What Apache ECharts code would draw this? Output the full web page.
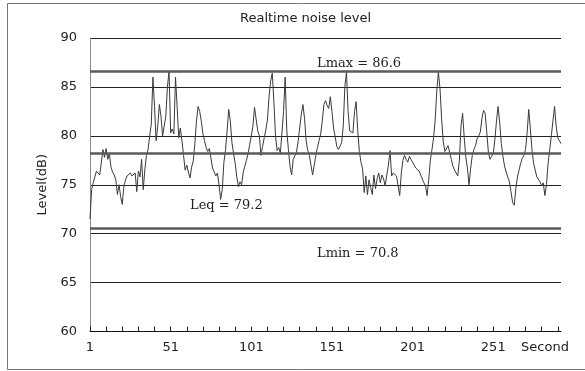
<!DOCTYPE html>
<html>
<head>
<meta charset="utf-8">
<script src="https://cdn.jsdelivr.net/npm/echarts@6/dist/echarts.min.js"></script>
<style>
html, body { margin: 0; padding: 0; background: #fff; }
#chart { width: 585px; height: 371px; }
</style>
</head>
<body>
<div id="chart"></div>
<script>
// noise level, one value per second
var noiseLevel = [
    71.5, 74.5, 75.2, 75.8, 76.4, 76.2, 76.0, 77.2, 78.6, 77.8,
    78.7, 77.6, 78.2, 76.8, 76.3, 76.0, 75.5, 74.0, 75.0, 73.8,
    73.0, 74.8, 75.5, 75.9, 76.0, 76.2, 75.9, 76.0, 76.2, 74.3,
    76.4, 75.8, 77.6, 74.5, 76.5, 78.0, 78.6, 80.0, 81.2, 86.0,
    83.0, 79.5, 81.0, 83.2, 82.0, 80.0, 79.8, 82.0, 85.0, 86.6,
    80.3, 80.7, 80.2, 86.0, 83.0, 79.8, 80.8, 79.5, 78.0, 76.5,
    77.0, 76.3, 75.7, 76.8, 77.4, 79.2, 81.5, 83.0, 82.5, 81.5,
    80.2, 79.5, 78.8, 78.4, 78.7, 77.7, 76.7, 76.8, 75.9, 76.2,
    75.0, 73.5, 74.5, 77.3, 78.5, 80.5, 82.7, 81.5, 79.3, 78.2,
    77.2, 75.8, 74.8, 75.3, 75.0, 76.3, 76.9, 77.5, 78.2, 79.1,
    80.0, 81.0, 82.9, 83.0, 80.5, 80.0, 78.0, 78.9, 79.8, 80.6,
    81.6, 84.0, 85.6, 86.4, 83.5, 80.0, 78.5, 78.8, 78.2, 78.0,
    82.5, 86.0, 80.5, 78.6, 76.9, 76.0, 77.6, 77.6, 78.3, 79.4,
    80.8, 82.2, 83.2, 81.8, 79.5, 78.5, 78.0, 77.0, 76.0, 77.0,
    78.0, 78.8, 79.5, 80.2, 81.5, 83.2, 83.6, 83.1, 82.8, 84.0,
    82.5, 80.8, 79.9, 78.9, 78.6, 78.4, 79.3, 81.0, 85.0, 86.5,
    82.5, 80.5, 80.7, 80.3, 82.5, 83.5, 80.5, 78.4, 77.3, 76.6,
    74.2, 75.9, 74.0, 75.5, 74.7, 74.0, 76.0, 74.6, 75.6, 76.2,
    75.2, 76.0, 75.6, 74.9, 76.0, 77.0, 78.5, 75.9, 76.2, 76.0,
    75.9, 74.9, 73.9, 76.2, 77.5, 78.0, 77.6, 77.3, 77.9, 77.6,
    77.3, 77.0, 76.7, 76.6, 76.4, 76.0, 75.9, 75.2, 74.9, 73.9,
    75.5, 77.5, 78.6, 79.8, 81.6, 84.6, 86.5, 84.8, 81.7, 79.4,
    78.4, 78.2, 79.0, 78.3, 77.6, 76.9, 76.5, 76.2, 75.9, 77.5,
    81.0, 82.3, 79.8, 77.8, 76.7, 75.0, 76.7, 78.0, 78.6, 79.0,
    79.7, 80.0, 80.4, 81.8, 82.6, 82.3, 80.3, 78.3, 77.6, 77.9,
    78.2, 79.6, 81.5, 83.0, 81.3, 79.2, 77.9, 76.9, 76.3, 75.8,
    75.3, 74.3, 73.2, 72.9, 74.6, 75.8, 76.5, 77.2, 77.7, 78.0,
    78.6, 80.3, 82.7, 80.7, 78.6, 77.2, 76.5, 75.8, 76.0, 75.3,
    74.9, 75.2, 73.9, 75.0, 77.2, 78.6, 80.0, 80.0, 83.0, 81.0,
    79.8, 79.5, 79.2
];

// seconds 1..n for the category axis
var seconds = [];
for (var i = 0; i < noiseLevel.length; i++) {
    seconds.push(String(i + 1));
}

// reference lines: [label, position of drawn line]
var lmaxLine = ['Lmax = 86.6', 86.6];
var leqLine = ['Leq = 79.2', 78.2];
var lminLine = ['Lmin = 70.8', 70.6];

var yTicks = [60, 65, 70, 75, 80, 85, 90];

var dom = document.getElementById('chart');
var myChart = echarts.init(dom);

var refStyle = { color: '#5a5a5a', width: 2.5, type: 'solid' };
var refLabel = { show: true, color: '#222', fontFamily: 'DejaVu Serif', fontSize: 13 };

var option = {
    animation: false,
    backgroundColor: '#fff',
    title: {
        text: 'Realtime noise level',
        left: 235,
        top: 7,
        textStyle: { fontFamily: 'DejaVu Sans', fontSize: 13, fontWeight: 'normal', color: '#222' }
    },
    graphic: [{
        type: 'rect',
        silent: true,
        shape: { x: 7.5, y: 3.5, width: 640, height: 366 },
        style: { fill: 'none', stroke: '#777', lineWidth: 1 }
    }],
    grid: { left: 90, right: 24, top: 38, bottom: 39.5 },
    xAxis: {
        type: 'category',
        data: seconds,
        boundaryGap: false,
        name: 'Second',
        nameLocation: 'end',
        nameGap: -16,
        nameTextStyle: {
            fontFamily: 'DejaVu Sans', fontSize: 13, color: '#222',
            align: 'center', verticalAlign: 'top', padding: [10, 0, 0, 0]
        },
        axisLine: { lineStyle: { color: '#111', width: 1 } },
        axisTick: { show: true, inside: true, interval: 9, length: 5, lineStyle: { color: '#222' } },
        axisLabel: { interval: 49, margin: 10, fontFamily: 'DejaVu Sans', fontSize: 13, color: '#222' },
        splitLine: { show: false }
    },
    yAxis: {
        type: 'value',
        min: yTicks[0],
        max: yTicks[yTicks.length - 1],
        interval: 5,
        name: 'Level(dB)',
        nameLocation: 'middle',
        nameGap: 40,
        nameTextStyle: { fontFamily: 'DejaVu Sans', fontSize: 13, color: '#222' },
        axisLine: { show: true, lineStyle: { color: '#888', width: 1 } },
        axisTick: { show: false },
        axisLabel: { margin: 13, fontFamily: 'DejaVu Sans', fontSize: 13, color: '#222' },
        splitLine: { show: true, lineStyle: { color: '#222', width: 1 } }
    },
    series: [{
        type: 'line',
        data: noiseLevel,
        showSymbol: false,
        lineStyle: { color: '#3a3a3a', width: 1 },
        markLine: {
            silent: true,
            symbol: 'none',
            lineStyle: refStyle,
            data: [
                { yAxis: lmaxLine[1], label: Object.assign({}, refLabel, { formatter: lmaxLine[0], position: 'insideStartTop', distance: [227, 1] }) },
                { yAxis: leqLine[1], label: Object.assign({}, refLabel, { formatter: leqLine[0], position: 'insideStartBottom', distance: [100, 46] }) },
                { yAxis: lminLine[1], label: Object.assign({}, refLabel, { formatter: lminLine[0], position: 'insideStartBottom', distance: [227, 19] }) }
            ]
        }
    }]
};

myChart.setOption(option);
window.onresize = myChart.resize;
</script>
</body>
</html>
